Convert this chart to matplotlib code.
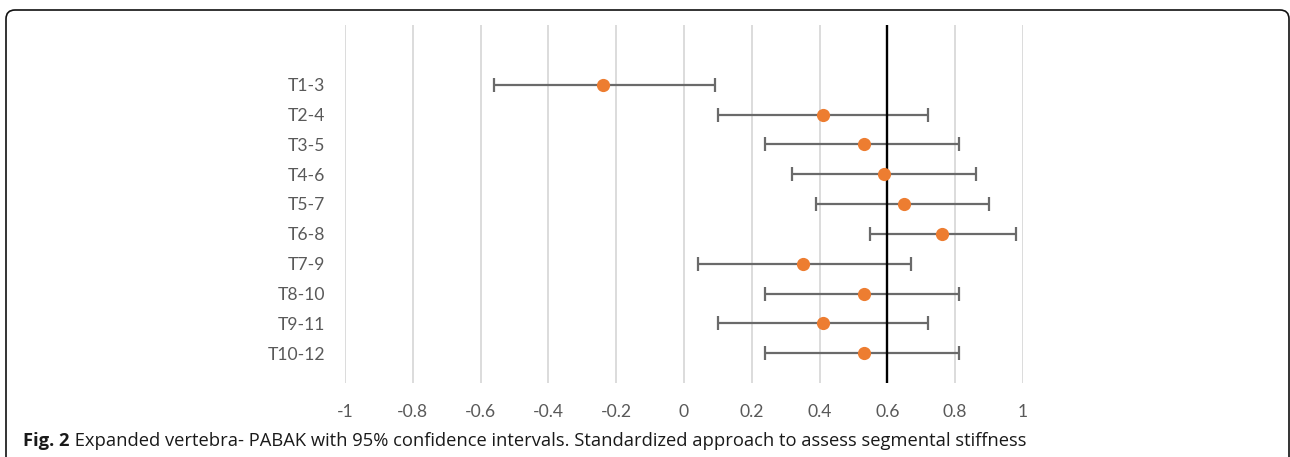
import matplotlib
matplotlib.use("Agg")
import matplotlib.pyplot as plt
from matplotlib.patches import FancyBboxPatch
from matplotlib.transforms import IdentityTransform

categories = ["T1-3", "T2-4", "T3-5", "T4-6", "T5-7", "T6-8", "T7-9", "T8-10", "T9-11", "T10-12"]
pabak = [-0.24, 0.41, 0.53, 0.59, 0.65, 0.76, 0.35, 0.53, 0.41, 0.53]
ci_low = [-0.56, 0.10, 0.24, 0.32, 0.39, 0.55, 0.04, 0.24, 0.10, 0.24]
ci_high = [0.09, 0.72, 0.81, 0.86, 0.90, 0.98, 0.67, 0.81, 0.72, 0.81]
x_ticks = [-1, -0.8, -0.6, -0.4, -0.2, 0, 0.2, 0.4, 0.6, 0.8, 1]
x_tick_labels = ["-1", "-0.8", "-0.6", "-0.4", "-0.2", "0", "0.2", "0.4", "0.6", "0.8", "1"]
reference_value = 0.6
caption_bold = "Fig. 2"
caption_text = " Expanded vertebra- PABAK with 95% confidence intervals. Standardized approach to assess segmental stiffness"

W, H = 1290, 457
fig = plt.figure(figsize=(W / 100, H / 100), dpi=100)
fig.patch.set_facecolor("white")

ax = fig.add_axes([345 / W, 1 - 383 / H, 678 / W, 358 / H])
ypos = list(range(len(categories)))

lower = [p - l for p, l in zip(pabak, ci_low)]
upper = [h - p for p, h in zip(pabak, ci_high)]
ax.errorbar(pabak, ypos, xerr=[lower, upper], fmt="none", ecolor="#6a6a6a",
            elinewidth=1.6, capsize=5, capthick=1.6, zorder=2)
ax.axvline(reference_value, color="black", lw=1.7, zorder=3)
ax.plot(pabak, ypos, "o", color="#ED7D31", markersize=9.5, markeredgewidth=0, zorder=4)

ax.set_xlim(-1, 1)
ax.set_ylim(len(categories), -2)
ax.set_xticks(x_ticks)
ax.set_xticklabels(x_tick_labels)
ax.set_yticks(ypos)
ax.set_yticklabels(categories)
ax.grid(axis="x", color="#D9D9D9", lw=1.3, zorder=0)
ax.set_axisbelow(True)
for s in ax.spines.values():
    s.set_visible(False)
ax.tick_params(axis="both", length=0, colors="#595959", labelsize=12.6)
ax.tick_params(axis="y", pad=14)
ax.tick_params(axis="x", pad=15)
for lab in ax.get_xticklabels() + ax.get_yticklabels():
    lab.set_fontfamily("Lato")

# rounded frame
frame = FancyBboxPatch((6, -30), 1283, H - 10 + 30,
                       boxstyle="round,pad=0,rounding_size=9",
                       transform=IdentityTransform(), fill=False,
                       edgecolor="#111111", lw=1.2)
fig.patches.append(frame)

t1 = fig.text(23 / W, 1 - 441 / H, caption_bold, fontsize=13.2, fontweight="bold",
              family="Open Sans", va="center", ha="left", color="#1a1a1a")
fig.canvas.draw()
bb = t1.get_window_extent()
fig.text(bb.x1 / W, 1 - 441 / H, caption_text, fontsize=13.2, family="Open Sans",
         va="center", ha="left", color="#1a1a1a")

fig.savefig("out.png", dpi=100)
